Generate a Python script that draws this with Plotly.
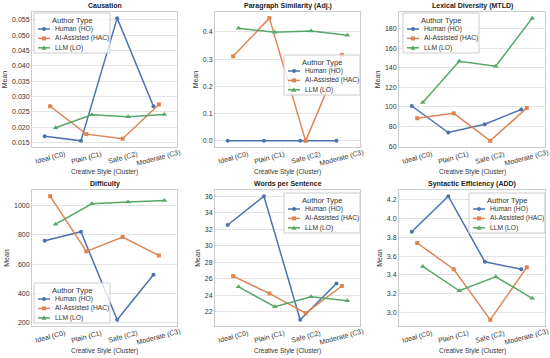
import plotly.graph_objects as go

# ---------------- data ----------------
categories = ["Ideal (C0)", "Plain (C1)", "Safe (C2)", "Moderate (C3)"]
series_names = ["Human (HO)", "AI-Assisted (HAC)", "LLM (LO)"]
legend_title = "Author Type"

causation_human = [0.0170, 0.0155, 0.0556, 0.0268]
causation_ai = [0.0268, 0.0177, 0.0162, 0.0274]
causation_llm = [0.0198, 0.0240, 0.0234, 0.0241]

parasim_human = [0.0, 0.0, 0.0, 0.0]
parasim_ai = [0.310, 0.450, 0.0, 0.315]
parasim_llm = [0.413, 0.398, 0.403, 0.387]

mtld_human = [101.0, 74.0, 82.5, 97.5]
mtld_ai = [88.5, 93.5, 65.5, 99.0]
mtld_llm = [104.5, 146.5, 141.5, 190.5]

difficulty_human = [760, 822, 220, 528]
difficulty_ai = [1065, 688, 786, 660]
difficulty_llm = [874, 1013, 1025, 1036]

wps_human = [32.5, 36.0, 21.0, 25.4]
wps_ai = [26.3, 24.2, 21.8, 25.1]
wps_llm = [25.0, 22.6, 23.8, 23.3]

synt_human = [3.86, 4.24, 3.54, 3.46]
synt_ai = [3.74, 3.46, 2.92, 3.48]
synt_llm = [3.49, 3.23, 3.38, 3.15]

panel_titles = ["Causation", "Paragraph Similarity (Adj.)", "Lexical Diversity (MTLD)",
                "Difficulty", "Words per Sentence", "Syntactic Efficiency (ADD)"]
panel_data = [
    (causation_human, causation_ai, causation_llm),
    (parasim_human, parasim_ai, parasim_llm),
    (mtld_human, mtld_ai, mtld_llm),
    (difficulty_human, difficulty_ai, difficulty_llm),
    (wps_human, wps_ai, wps_llm),
    (synt_human, synt_ai, synt_llm),
]
panel_dtick = [0.005, 0.1, 20, 200, 2, 0.2]
panel_fmt = [".3f", ".1f", "d", "d", "d", ".1f"]

# ---------------- style ----------------
W, H = 550, 358
colors = ["#4C72B0", "#DD8452", "#55A868"]
symbols = ["circle", "square", "triangle-up"]
msizes = [4, 4, 5]
dodge = [-0.15, 0.0, 0.15]
FONT = "Liberation Sans, Arial, sans-serif"
TXT = "#333333"

col_px = [(32, 177), (215, 360), (399, 545)]
row_px = [(12, 147), (190, 326)]

# legend boxes: (left, top) in px
legend_pos = [(34, 13), (284, 55), (403, 13), (34, 283), (284, 193), (469, 193)]
LEG_W, LEG_H = 76, 40


def px(xp):
    return xp / W


def py(yp):
    return 1 - yp / H


fig = go.Figure()
annotations = []
shapes = []
layout = {}

for k in range(6):
    r, c = divmod(k, 3)
    idx = k + 1
    xa = "xaxis" if idx == 1 else f"xaxis{idx}"
    ya = "yaxis" if idx == 1 else f"yaxis{idx}"
    xr = "x" if idx == 1 else f"x{idx}"
    yr = "y" if idx == 1 else f"y{idx}"

    x0, x1 = col_px[c]
    y0, y1 = row_px[r]
    dom_x = [x0 / W, x1 / W]
    dom_y = [1 - y1 / H, 1 - y0 / H]

    allv = []
    for s in range(3):
        vals = panel_data[k][s]
        allv += list(vals)
        fig.add_trace(go.Scatter(
            x=[i + dodge[s] for i in range(len(categories))],
            y=vals,
            mode="lines+markers",
            name=series_names[s],
            line=dict(color=colors[s], width=1.5),
            marker=dict(symbol=symbols[s], size=msizes[s], color=colors[s], line=dict(width=0)),
            xaxis=xr, yaxis=yr, showlegend=False,
        ))
    lo, hi = min(allv), max(allv)
    pad = (hi - lo) * 0.05

    layout[xa] = dict(domain=dom_x, anchor=yr, range=[-0.5, len(categories) - 0.5],
                      showgrid=False, zeroline=False, showticklabels=False,
                      showline=True, mirror=True, linecolor="#cccccc", linewidth=1,
                      ticks="", automargin=False)
    layout[ya] = dict(domain=dom_y, anchor=xr, range=[lo - pad, hi + pad],
                      dtick=panel_dtick[k], tickformat=panel_fmt[k],
                      showgrid=True, gridcolor="#e3e3e3", gridwidth=1, zeroline=False,
                      showline=True, mirror=True, linecolor="#cccccc", linewidth=1,
                      ticks="", ticklen=0,
                      tickfont=dict(family=FONT, size=7, color=TXT),
                      title=dict(text="Mean", font=dict(family=FONT, size=7, color=TXT), standoff=3),
                      automargin=False)

    # panel title
    annotations.append(dict(text=f"<b>{panel_titles[k]}</b>", xref=f"{xr} domain", yref=f"{yr} domain",
                            x=0.5, y=1, yshift=6, xanchor="center", yanchor="middle", showarrow=False,
                            font=dict(family=FONT, size=7, color="#222222")))
    # x axis title
    annotations.append(dict(text="Creative Style (Cluster)", xref=f"{xr} domain", yref=f"{yr} domain",
                            x=0.5, y=0, yshift=-25, xanchor="center", yanchor="middle", showarrow=False,
                            font=dict(family=FONT, size=6.5, color=TXT)))
    # rotated category tick labels
    for i, cat in enumerate(categories):
        annotations.append(dict(text=cat, xref=xr, yref=f"{yr} domain", x=i, y=0, yshift=-11,
                                xanchor="center", yanchor="middle", textangle=-15, showarrow=False,
                                font=dict(family=FONT, size=7, color=TXT)))

    # ---- legend box ----
    L, T = legend_pos[k]
    shapes.append(dict(type="rect", xref="paper", yref="paper", layer="above",
                       x0=px(L), x1=px(L + LEG_W), y0=py(T + LEG_H), y1=py(T),
                       fillcolor="rgba(255,255,255,0.8)", line=dict(color="#cccccc", width=1)))
    annotations.append(dict(text=legend_title, xref="paper", yref="paper",
                            x=px(L + LEG_W / 2), y=py(T + 7.5), xanchor="center", yanchor="middle",
                            showarrow=False, font=dict(family=FONT, size=7.5, color=TXT)))
    for s in range(3):
        cy = T + 16 + s * 9.4
        shapes.append(dict(type="line", xref="paper", yref="paper", layer="above",
                           x0=px(L + 4), x1=px(L + 16), y0=py(cy), y1=py(cy),
                           line=dict(color=colors[s], width=1.5)))
        mx = L + 10
        if symbols[s] == "circle":
            shapes.append(dict(type="circle", xref="paper", yref="paper", layer="above",
                               x0=px(mx - 2), x1=px(mx + 2), y0=py(cy + 2), y1=py(cy - 2),
                               fillcolor=colors[s], line=dict(width=0)))
        elif symbols[s] == "square":
            shapes.append(dict(type="rect", xref="paper", yref="paper", layer="above",
                               x0=px(mx - 2), x1=px(mx + 2), y0=py(cy + 2), y1=py(cy - 2),
                               fillcolor=colors[s], line=dict(width=0)))
        else:
            path = (f"M {px(mx - 2.5)},{py(cy + 2)} L {px(mx + 2.5)},{py(cy + 2)} "
                    f"L {px(mx)},{py(cy - 2.5)} Z")
            shapes.append(dict(type="path", xref="paper", yref="paper", layer="above",
                               path=path, fillcolor=colors[s], line=dict(width=0)))
        annotations.append(dict(text=series_names[s], xref="paper", yref="paper",
                                x=px(L + 19), y=py(cy), xanchor="left", yanchor="middle",
                                showarrow=False, font=dict(family=FONT, size=6.7, color=TXT)))

fig.update_layout(width=W, height=H, margin=dict(l=0, r=0, t=0, b=0),
                  paper_bgcolor="white", plot_bgcolor="white", showlegend=False,
                  annotations=annotations, shapes=shapes, **layout)

fig.write_html("out.html", config={"displayModeBar": False},
               post_script="document.body.style.margin='0';")
